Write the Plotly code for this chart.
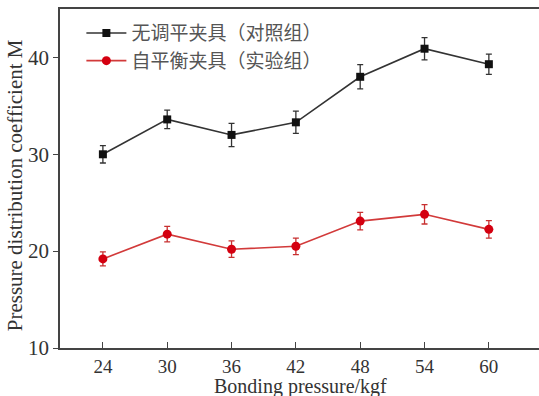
import plotly.graph_objects as go

pressure = [24, 30, 36, 42, 48, 54, 60]
control_vals = [30.0, 33.6, 32.0, 33.3, 38.0, 40.9, 39.3]
control_err = [0.9, 0.95, 1.2, 1.15, 1.25, 1.15, 1.05]
exp_vals = [19.2, 21.75, 20.2, 20.5, 23.1, 23.8, 22.25]
exp_err = [0.72, 0.8, 0.85, 0.85, 0.9, 1.0, 0.9]
names = ["无调平夹具（对照组）", "自平衡夹具（实验组）"]
x_ticks = [24, 30, 36, 42, 48, 54, 60]
y_ticks = [10, 20, 30, 40]
x_title = "Bonding pressure/kgf"
y_title = "Pressure distribution coefficient M"

fig = go.Figure()
fig.add_trace(go.Scatter(
    x=pressure, y=control_vals, name=names[0], mode="lines+markers",
    line=dict(color="#333333", width=1.6),
    marker=dict(symbol="square", size=8, color="#111111"),
    error_y=dict(type="data", array=control_err, visible=True, color="#333333", thickness=1.3, width=3),
))
fig.add_trace(go.Scatter(
    x=pressure, y=exp_vals, name=names[1], mode="lines+markers",
    line=dict(color="#d23a3a", width=1.6),
    marker=dict(symbol="circle", size=9, color="#d40010"),
    error_y=dict(type="data", array=exp_err, visible=True, color="#c83030", thickness=1.3, width=3),
))

serif = "Liberation Serif, Times New Roman, serif"
fig.update_layout(
    width=546, height=396,
    margin=dict(l=60, r=0, t=9, b=48, autoexpand=False),
    paper_bgcolor="white", plot_bgcolor="white",
    font=dict(family=serif, color="#333333"),
    showlegend=True,
    legend=dict(
        x=0.044, y=0.985, xanchor="left", yanchor="top",
        bgcolor="rgba(0,0,0,0)",
        font=dict(family="Noto Sans CJK SC", size=19, color="#555555"),
        itemwidth=40, tracegroupgap=0,
    ),
    xaxis=dict(
        range=[20, 65.33], tickvals=x_ticks, ticktext=[str(v) for v in x_ticks],
        showline=True, linecolor="#444444", linewidth=1.5, mirror=True,
        ticks="inside", ticklen=6, tickwidth=1.3, tickcolor="#444444",
        showgrid=False, zeroline=False, automargin=False,
        tickfont=dict(family=serif, size=19, color="#333333"),
    ),
    yaxis=dict(
        range=[10, 45], tickvals=y_ticks, ticktext=[str(v) for v in y_ticks],
        showline=True, linecolor="#444444", linewidth=1.5, mirror=False,
        ticks="outside", ticklen=5, tickwidth=1.3, tickcolor="#444444",
        showgrid=False, zeroline=False, automargin=False,
        tickfont=dict(family=serif, size=21, color="#333333"),
    ),
    annotations=[
        dict(text=x_title, xref="paper", yref="paper", x=0.4945, y=0,
             xanchor="center", yanchor="top", yshift=-25, showarrow=False,
             font=dict(family=serif, size=20, color="#333333")),
        dict(text=y_title, xref="paper", yref="paper", x=0, y=0.48,
             xanchor="right", yanchor="middle", xshift=-31, textangle=-90, showarrow=False,
             font=dict(family=serif, size=21, color="#333333")),
    ],
)

fig.write_html("out.html", config={"displayModeBar": False},
               post_script="document.body.style.margin='0';document.body.style.overflow='hidden';")
